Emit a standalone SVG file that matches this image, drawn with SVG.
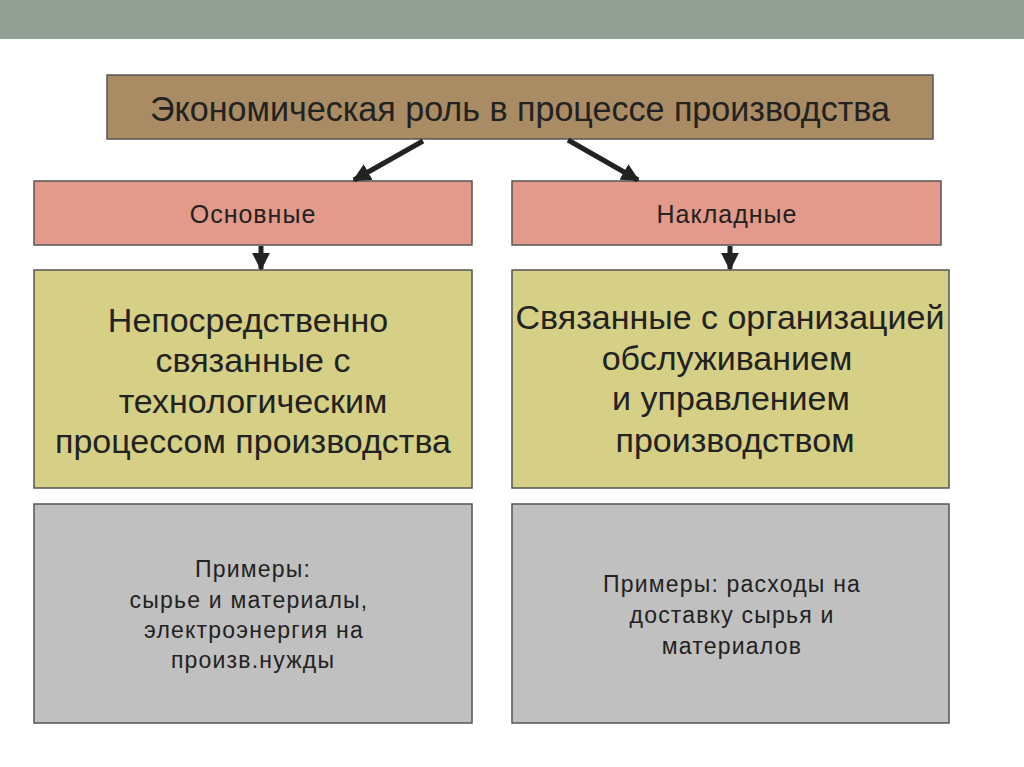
<svg xmlns="http://www.w3.org/2000/svg" width="1024" height="767" viewBox="0 0 1024 767">
<defs>
<style>
.t{font-family:"Liberation Sans",Arial,sans-serif;fill:#222;text-anchor:middle}
.box{stroke:#555;stroke-width:1.5}
.conn{stroke:#222;stroke-width:5;fill:none}
</style>
<marker id="ah" viewBox="0 0 10 10" refX="9" refY="5" markerWidth="3.6" markerHeight="3.6" orient="auto" markerUnits="strokeWidth">
<path d="M0,0 L10,5 L0,10 z" fill="#222"/>
</marker>
</defs>
<rect width="1024" height="767" fill="#fff"/>
<rect x="0" y="0" width="1024" height="39" fill="#919f94"/>
<g id="header">
<rect class="box" x="107" y="75" width="826" height="64" fill="#a98c64"/>
<text class="t" x="520" y="121" font-size="35" textLength="740" lengthAdjust="spacingAndGlyphs">Экономическая роль в процессе производства</text>
</g>
<g id="osnovnye">
<rect class="box" x="34" y="181" width="438" height="64" fill="#e39a8a"/>
<text class="t" x="253" y="223" font-size="25" letter-spacing="1">Основные</text>
</g>
<g id="nakladnye">
<rect class="box" x="512" y="181" width="429" height="64" fill="#e39a8a"/>
<text class="t" x="727" y="223" font-size="25" letter-spacing="1">Накладные</text>
</g>
<g id="direct">
<rect class="box" x="34" y="270" width="438" height="218" fill="#d6d087"/>
<text class="t" font-size="34"><tspan x="248" y="332">Непосредственно</tspan><tspan x="253" y="372">связанные с</tspan><tspan x="253" y="413">технологическим</tspan><tspan x="253" y="453">процессом производства</tspan></text>
</g>
<g id="overhead">
<rect class="box" x="512" y="270" width="437" height="218" fill="#d6d087"/>
<text class="t" font-size="34"><tspan x="730" y="329">Связанные с организацией</tspan><tspan x="727" y="370">обслуживанием</tspan><tspan x="731" y="410">и управлением</tspan><tspan x="735" y="452">производством</tspan></text>
</g>
<g id="examples-left">
<rect class="box" x="34" y="504" width="438" height="219" fill="#c0c0c0"/>
<text class="t" font-size="23" letter-spacing="1.2"><tspan x="253" y="577">Примеры:</tspan><tspan x="249" y="608">сырье и материалы,</tspan><tspan x="254" y="638">электроэнергия на</tspan><tspan x="253" y="668">произв.нужды</tspan></text>
</g>
<g id="examples-right">
<rect class="box" x="512" y="504" width="437" height="219" fill="#c0c0c0"/>
<text class="t" font-size="23" letter-spacing="1.2"><tspan x="732" y="592">Примеры: расходы на</tspan><tspan x="732" y="623">доставку сырья и</tspan><tspan x="732" y="654">материалов</tspan></text>
</g>
<g id="connectors">
<line class="conn" x1="423" y1="141" x2="354" y2="180" marker-end="url(#ah)"/>
<line class="conn" x1="568" y1="140" x2="638" y2="180" marker-end="url(#ah)"/>
<line class="conn" x1="261" y1="246" x2="261" y2="269" marker-end="url(#ah)"/>
<line class="conn" x1="730" y1="246" x2="730" y2="269" marker-end="url(#ah)"/>
</g>
</svg>
